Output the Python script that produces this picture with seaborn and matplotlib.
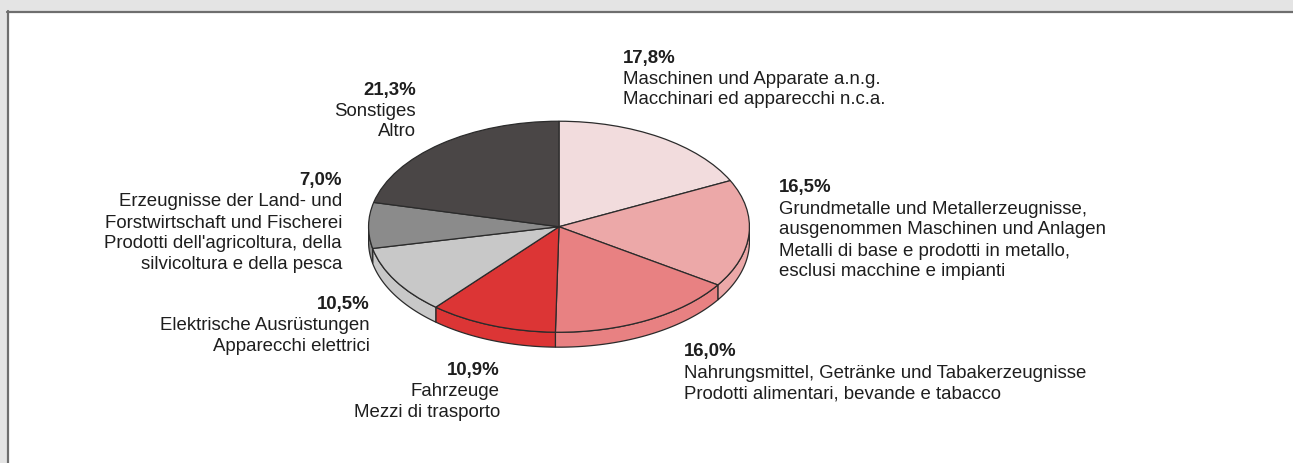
import numpy as np
import matplotlib
matplotlib.use("Agg")
import matplotlib.pyplot as plt
from matplotlib.patches import Rectangle, Polygon
from matplotlib.lines import Line2D
import seaborn as sns

# ---- data ----
categories = ["Maschinen", "Grundmetalle", "Nahrungsmittel", "Fahrzeuge",
              "Elektrische", "Erzeugnisse", "Sonstiges"]
shares = [17.8, 16.5, 16.0, 10.9, 10.5, 7.0, 21.3]
pct_labels = ["17,8%", "16,5%", "16,0%", "10,9%", "10,5%", "7,0%", "21,3%"]
label_lines = [
    ["Maschinen und Apparate a.n.g.", "Macchinari ed apparecchi n.c.a."],
    ["Grundmetalle und Metallerzeugnisse,", "ausgenommen Maschinen und Anlagen",
     "Metalli di base e prodotti in metallo,", "esclusi macchine e impianti"],
    ["Nahrungsmittel, Getränke und Tabakerzeugnisse", "Prodotti alimentari, bevande e tabacco"],
    ["Fahrzeuge", "Mezzi di trasporto"],
    ["Elektrische Ausrüstungen", "Apparecchi elettrici"],
    ["Erzeugnisse der Land- und", "Forstwirtschaft und Fischerei",
     "Prodotti dell'agricoltura, della", "silvicoltura e della pesca"],
    ["Sonstiges", "Altro"],
]
slice_colors = ["#f2dcdd", "#eca8a8", "#e88182", "#dc3535", "#c8c8c8", "#8b8b8b", "#4a4646"]

# ---- layout (pixels) ----
W, H = 1293, 464
label_pos = [  # (x anchor, y of first line center, alignment)
    (623, 58, "left"),
    (779, 188, "left"),
    (684, 352, "left"),
    (500, 371, "right"),
    (370, 305, "right"),
    (342, 181, "right"),
    (416, 90, "right"),
]
line_step = 21.0
fsize = 13.4

sns.set_theme(style="white")
plt.rcParams["font.family"] = ["Liberation Sans", "DejaVu Sans"]
palette = sns.color_palette(slice_colors)

fig = plt.figure(figsize=(W / 100, H / 100), dpi=100, facecolor="#e4e4e4")

def fx(x):
    return x / W

def fy(y):
    return 1 - y / H

# white panel with border
fig.patches.append(Rectangle((fx(7), 0), 1 - fx(7), fy(12), transform=fig.transFigure,
                             facecolor="white", edgecolor="none", zorder=-5))
fig.lines.append(Line2D([fx(7), 1], [fy(12.5), fy(12.5)], transform=fig.transFigure,
                        color="#6e6e6e", lw=1.6, zorder=-4))
fig.lines.append(Line2D([fx(7.5), fx(7.5)], [0, fy(12)], transform=fig.transFigure,
                        color="#6e6e6e", lw=1.6, zorder=-4))

# pie geometry
cx, cy, rx, ry, depth = 559, 227.7, 191, 106, 15
d = depth / ry
ax = fig.add_axes([fx(cx - rx), fy(cy + ry + depth), fx(2 * rx), (2 * ry + depth) / H])
ax.set_zorder(2)
ax.set_facecolor("none")
wedges, _ = ax.pie(shares, colors=palette, startangle=90, counterclock=False,
                   wedgeprops=dict(edgecolor="#2b2b2b", linewidth=0.9))
for w in wedges:
    w.set_zorder(2)

# side walls (front half)
for w, col in zip(wedges, palette):
    t1, t2 = w.theta1, w.theta2
    for k in (-360, 0, 360):
        a1 = max(t1, -180 + k)
        a2 = min(t2, 0 + k)
        if a2 > a1:
            a = np.radians(np.linspace(a1, a2, 60))
            top = np.column_stack([np.cos(a), np.sin(a)])
            bot = np.column_stack([np.cos(a[::-1]), np.sin(a[::-1]) - d])
            ax.add_patch(Polygon(np.vstack([top, bot]), closed=True, facecolor=col,
                                 edgecolor="#2b2b2b", linewidth=0.9, zorder=1))

ax.set_aspect("auto")
ax.set_xlim(-1.003, 1.003)
ax.set_ylim(-1 - d - 0.005, 1.005)
ax.axis("off")

# labels
txt_color = "#1e1e1e"
for (x, y, ha), pct, lines in zip(label_pos, pct_labels, label_lines):
    fig.text(fx(x), fy(y), pct, ha=ha, va="center", fontsize=fsize, fontweight="bold",
             color=txt_color)
    for i, ln in enumerate(lines):
        fig.text(fx(x), fy(y + line_step * (i + 1)), ln, ha=ha, va="center",
                 fontsize=fsize, color=txt_color)

fig.savefig("out.png", dpi=100, facecolor=fig.get_facecolor())
